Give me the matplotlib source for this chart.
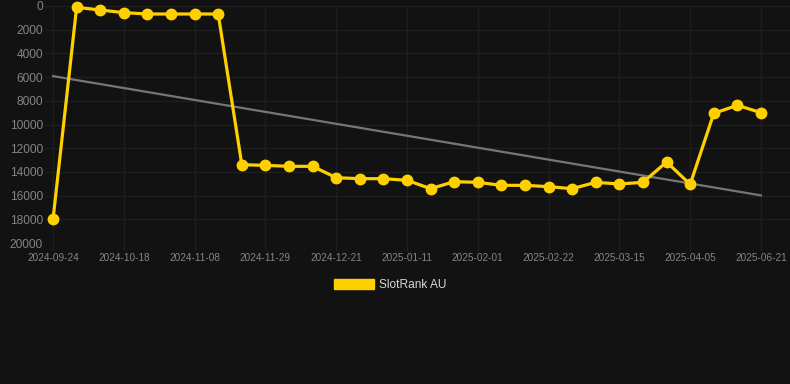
import numpy as np
import matplotlib
matplotlib.use("Agg")
import matplotlib.pyplot as plt
from matplotlib.patches import Patch

plt.rcParams['font.family'] = ['Liberation Sans', 'DejaVu Sans']

# weekly snapshots (category axis, one point per date)
dates = ["2024-09-24", "2024-10-04", "2024-10-11", "2024-10-18", "2024-10-25",
         "2024-11-01", "2024-11-08", "2024-11-15", "2024-11-22", "2024-11-29",
         "2024-12-07", "2024-12-14", "2024-12-21", "2024-12-28", "2025-01-04",
         "2025-01-11", "2025-01-18", "2025-01-25", "2025-02-01", "2025-02-08",
         "2025-02-15", "2025-02-22", "2025-03-01", "2025-03-08", "2025-03-15",
         "2025-03-22", "2025-03-29", "2025-04-05", "2025-06-07", "2025-06-14",
         "2025-06-21"]
rank = [18000, 110, 340, 560, 675, 675, 675, 675, 13390, 13450,
        13530, 13530, 14490, 14570, 14570, 14710, 15415, 14825, 14880, 15135,
        15135, 15245, 15415, 14880, 15020, 14880, 13165, 15050, 9060, 8380,
        9000]
series_name = "SlotRank AU"

BG = "#121212"
GRID = "#1e1e1e"
TXT = "#858585"
YEL = "#FFD000"

fig = plt.figure(figsize=(7.9, 3.84), dpi=100, facecolor=BG)
ax = fig.add_axes([45/790, 141/384, 745/790, 237/384], facecolor=BG)

x = np.arange(len(rank))
coef = np.polyfit(x, rank, 1)
ax.plot([x[0], x[-1]], np.polyval(coef, [x[0], x[-1]]), color="#767676", lw=1.6, zorder=2)

ax.plot(x, rank, color=YEL, lw=2.3, marker="o", markersize=7.5, zorder=3, clip_on=False)

ax.set_ylim(20000, 0)
ax.set_yticks(np.arange(0, 20001, 2000))
ax.set_xlim(-0.34, 31.23)
ticks = x[::3]
ax.set_xticks(ticks)
ax.set_xticklabels([dates[i] for i in ticks])

ax.grid(True, color=GRID, lw=1)
ax.set_axisbelow(True)
for s in ax.spines.values():
    s.set_visible(False)
ax.tick_params(axis="y", length=0, pad=1.5, labelcolor=TXT, labelsize=8.6)
ax.tick_params(axis="x", length=5.8, width=1, color=GRID, pad=1.5, labelcolor=TXT, labelsize=7.2)

handle = Patch(facecolor=YEL, edgecolor=YEL)
fig.legend([handle], [series_name], loc="center", bbox_to_anchor=(0.494, 0.258),
           frameon=False, fontsize=8.6, labelcolor="#d8d8d8",
           handlelength=3.3, handleheight=0.9, handletextpad=0.45)

fig.savefig("out.png", dpi=100, facecolor=BG)
